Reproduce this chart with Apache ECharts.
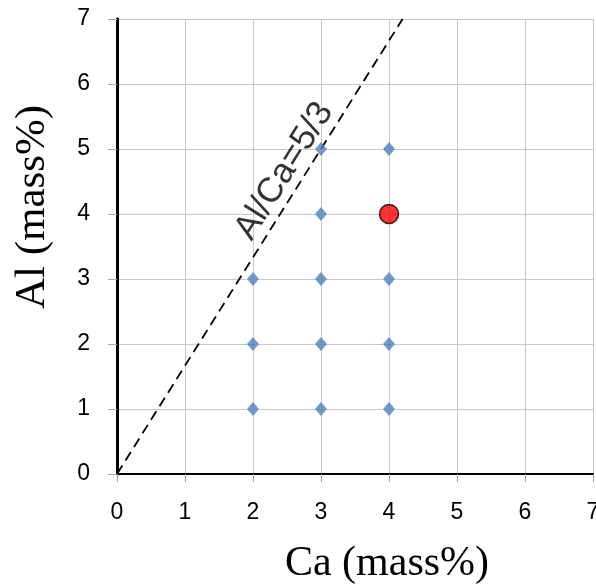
<!DOCTYPE html>
<html>
<head>
<meta charset="utf-8">
<script src="https://cdn.jsdelivr.net/npm/echarts@6/dist/echarts.min.js"></script>
<style>html,body{margin:0;padding:0;background:#fff}#chart{width:596px;height:588px}</style>
</head>
<body>
<div id="chart"></div>
<script>
// Tick values for both axes (mass%)
const axisTicks = [0, 1, 2, 3, 4, 5, 6, 7];
// Tested compositions: [Ca, Al] in mass%
const testedPoints = [
  [2, 1], [2, 2], [2, 3],
  [3, 1], [3, 2], [3, 3], [3, 4], [3, 5],
  [4, 1], [4, 2], [4, 3], [4, 5]
];
// Highlighted composition
const selectedPoint = [[4, 4]];
// Reference ratio line Al/Ca = 5/3, from the origin to the top of the frame
const ratioLine = [[0, 0], [4.2, 7]];
const ratioText = 'Al/Ca=5/3';
// Anchor of the ratio caption, in data units
const ratioTextAnchor = [[2.46, 4.66]];

const chart = echarts.init(document.getElementById('chart'));
const tickFont = { fontFamily: 'Liberation Sans, Arial, sans-serif', fontSize: 23, color: '#000' };
const titleFont = 'Liberation Serif, Times New Roman, serif';
const gridLine = { show: true, lineStyle: { color: '#c8c8c8', width: 1 } };

chart.setOption({
  animation: false,
  title: [
    { text: 'Ca (mass%)', left: 382, top: 538, textAlign: 'center',
      textStyle: { fontFamily: titleFont, fontSize: 42, fontWeight: 'normal', color: '#000' } }
  ],
  graphic: [{
    type: 'text', x: 33, y: 207, rotation: Math.PI / 2,
    style: { text: 'Al (mass%)', fontFamily: titleFont, fontSize: 43, fill: '#000',
      align: 'center', verticalAlign: 'middle' }
  }],
  grid: { left: 117, top: 19, right: 3, bottom: 114, outerBoundsMode: 'none', containLabel: false },
  xAxis: [{
    type: 'value', min: 0, max: 7, interval: 1,
    axisLine: { show: true, onZero: false, lineStyle: { color: '#595959', width: 2 } },
    axisTick: { show: true, length: 8, lineStyle: { color: '#a6a6a6' } },
    axisLabel: Object.assign({ margin: 27, formatter: v => axisTicks.includes(v) ? String(v) : '' }, tickFont),
    splitLine: gridLine
  }, {
    type: 'value', min: 0, max: 7, interval: 1, position: 'top',
    axisLine: { show: true, lineStyle: { color: '#000', width: 2 } },
    axisTick: { show: false }, axisLabel: { show: false }, splitLine: { show: false }
  }],
  yAxis: [{
    type: 'value', min: 0, max: 7, interval: 1,
    axisLine: { show: true, onZero: false, lineStyle: { color: '#595959', width: 3 } },
    axisTick: { show: true, length: 9, lineStyle: { color: '#a6a6a6' } },
    axisLabel: Object.assign({ margin: 27 }, tickFont),
    splitLine: gridLine
  }, {
    type: 'value', min: 0, max: 7, interval: 1, position: 'right',
    axisLine: { show: true, lineStyle: { color: '#000', width: 3 } },
    axisTick: { show: false }, axisLabel: { show: false }, splitLine: { show: false }
  }],
  series: [
    {
      name: 'ratio', type: 'line', data: ratioLine, symbol: 'none', silent: true,
      lineStyle: { color: '#000', width: 1.8, type: [10, 6] }, z: 3
    },
    {
      name: 'ratio caption', type: 'scatter', data: ratioTextAnchor, symbolSize: 0, silent: true,
      label: { show: true, position: 'inside', rotate: 58, formatter: ratioText,
        fontFamily: 'Liberation Sans, Arial, sans-serif', fontSize: 35, color: '#000' }, z: 4
    },
    {
      name: 'tested', type: 'scatter', data: testedPoints, symbol: 'diamond', symbolSize: [12, 14],
      itemStyle: { color: '#4f81bd' }, z: 5
    },
    {
      name: 'selected', type: 'scatter', data: selectedPoint, symbol: 'circle', symbolSize: 19,
      itemStyle: { color: '#ff0000', borderColor: '#000', borderWidth: 1.5 }, z: 6
    }
  ]
});
</script>
</body>
</html>
